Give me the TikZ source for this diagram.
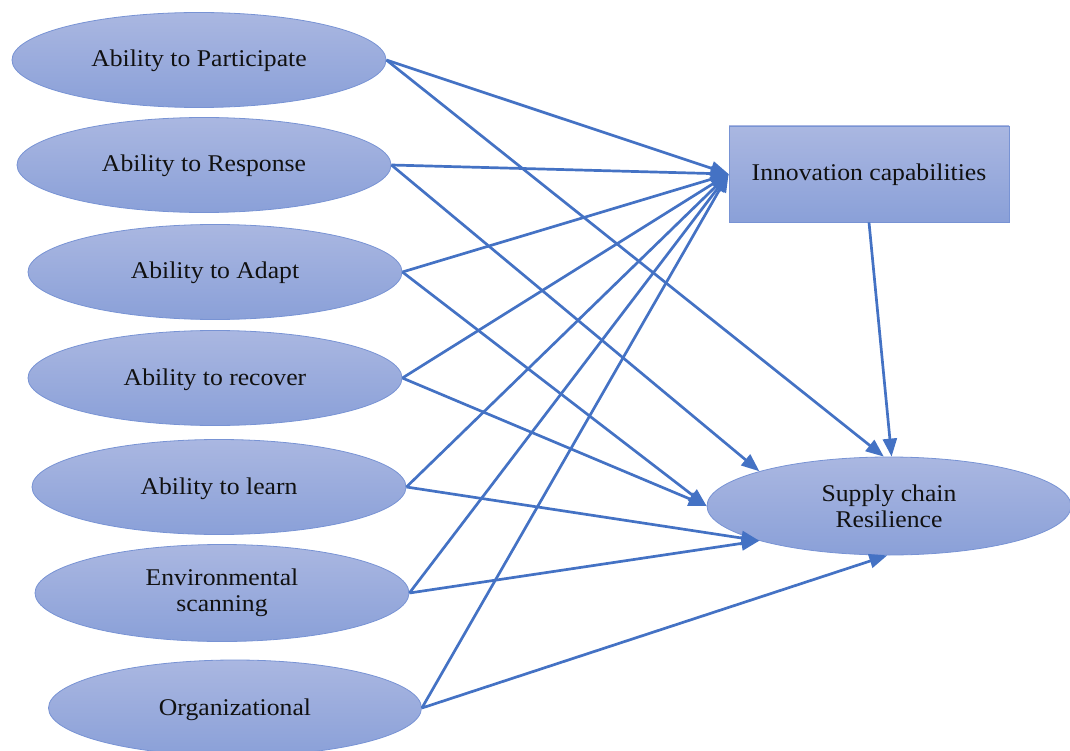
\documentclass[tikz,border=0pt]{standalone}
\usepackage{fontspec}
\setmainfont[FakeStretch=1.07]{Liberation Serif}
\usetikzlibrary{shapes.geometric,arrows.meta}
\definecolor{fillTop}{HTML}{AAB7E1}
\definecolor{fillBot}{HTML}{8AA0D8}
\definecolor{edgeC}{HTML}{7893D4}
\definecolor{lineC}{HTML}{4472C4}
\definecolor{txtC}{HTML}{111111}
\begin{document}
\begin{tikzpicture}[x=1pt,y=-1pt,
  oval/.style={ellipse, draw=edgeC, line width=0.8pt, top color=fillTop, bottom color=fillBot,
    minimum width=374pt, minimum height=95pt, inner sep=0pt, align=center, text=txtC,
    font=\fontsize{24}{26}\selectfont},
  oneline/.style={text height=19pt, text depth=5pt},
  boxnode/.style={rectangle, draw=edgeC, line width=0.8pt, top color=fillTop, bottom color=fillBot,
    minimum width=280pt, minimum height=96pt, inner sep=0pt, align=center, text=txtC,
    font=\fontsize{24}{26}\selectfont},
  link/.style={draw=lineC, line width=2.7pt, -{Triangle[length=18pt,width=14pt]}}
]
\clip (0,0) rectangle (1070,751);
\node[oval,oneline] (p) at (199,60) {Ability to Participate};
\node[oval,oneline] (r) at (204,165) {Ability to Response};
\node[oval,oneline] (ad) at (215,272) {Ability to Adapt};
\node[oval,oneline] (rc) at (215,378) {Ability to recover};
\node[oval,oneline] (l) at (219,487) {Ability to learn};
\node[oval, minimum height=97pt] (e) at (222,593) {Environmental\\scanning};
\node[oval,oneline, minimum width=373pt, minimum height=96pt] (o) at (235,708) {Organizational};
\node[boxnode,oneline] (inn) at (869,174) {Innovation capabilities};
\node[oval, minimum width=364pt, minimum height=98pt] (sc) at (889,506) {Supply chain\\Resilience};

\foreach \s in {p,r,ad,rc,l,e,o}{
  \draw[link] (\s.east) -- (inn.west);
}
\draw[link] (p.east) -- (sc.96);
\draw[link] (r.east) -- (sc.165);
\draw[link] (ad.east) -- (sc.west);
\draw[link] (rc.east) -- (sc.west);
\draw[link] (l.east) -- (sc.195);
\draw[link] (e.east) -- (sc.195);
\draw[link] (o.east) -- (sc.268);
\draw[link] (inn.south) -- (sc.87);
\end{tikzpicture}
\end{document}
